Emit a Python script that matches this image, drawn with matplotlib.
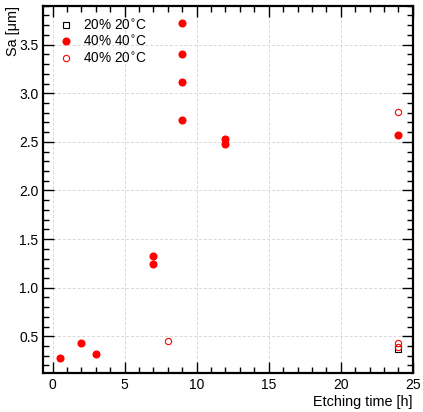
import matplotlib
matplotlib.use("Agg")
import matplotlib.pyplot as plt
from matplotlib.ticker import MultipleLocator

plt.rcParams['font.family'] = ['Liberation Sans', 'DejaVu Sans']

# Data
t_20_20 = [24]
sa_20_20 = [0.37]

t_40_40 = [0.5, 2, 3, 7, 7, 9, 9, 9, 9, 12, 12, 24]
sa_40_40 = [0.28, 0.43, 0.32, 1.33, 1.24, 3.72, 3.40, 3.12, 2.72, 2.53, 2.48, 2.57]

t_40_20 = [8, 24, 24, 24]
sa_40_20 = [0.45, 2.81, 0.43, 0.39]

labels = ["20% 20$^{\\circ}$C", "40% 40$^{\\circ}$C", "40% 20$^{\\circ}$C"]

fig = plt.figure(figsize=(4.23, 4.12), dpi=100)
ax = fig.add_axes([0.102, 0.094, 0.874, 0.892])

ax.plot(t_20_20, sa_20_20, 's', mfc='none', mec='black', ms=4.5, mew=0.8, label=labels[0])
ax.plot(t_40_40, sa_40_40, 'o', color='red', ms=4.8, label=labels[1])
ax.plot(t_40_20, sa_40_20, 'o', mfc='none', mec='red', ms=4.5, mew=0.8, label=labels[2])

ax.set_xlim(-0.65, 25)
ax.set_ylim(0.12, 3.9)

ax.xaxis.set_major_locator(MultipleLocator(5))
ax.xaxis.set_minor_locator(MultipleLocator(1))
ax.yaxis.set_major_locator(MultipleLocator(0.5))
ax.yaxis.set_minor_locator(MultipleLocator(0.1))

ax.tick_params(which='both', direction='in', top=True, right=True, labelsize=10, width=1, color='black')
ax.tick_params(which='major', length=8)
ax.tick_params(which='minor', length=4)
for s in ax.spines.values():
    s.set_linewidth(1.6)

ax.grid(True, which='major', linestyle=(0, (3, 2)), color='#d8d8d8', linewidth=0.7)
ax.set_axisbelow(True)

ax.set_xlabel("Etching time [h]", fontsize=10.4, loc='right', labelpad=2)
ax.set_ylabel("Sa [μm]", fontsize=10.4, loc='top', labelpad=-0.5)

leg = ax.legend(loc='upper left', frameon=False, fontsize=9.8, handletextpad=0.75,
                borderaxespad=0.5, labelspacing=0.15, handlelength=1.0,
                bbox_to_anchor=(0.01, 1.0))

fig.savefig("out.png", dpi=100)
